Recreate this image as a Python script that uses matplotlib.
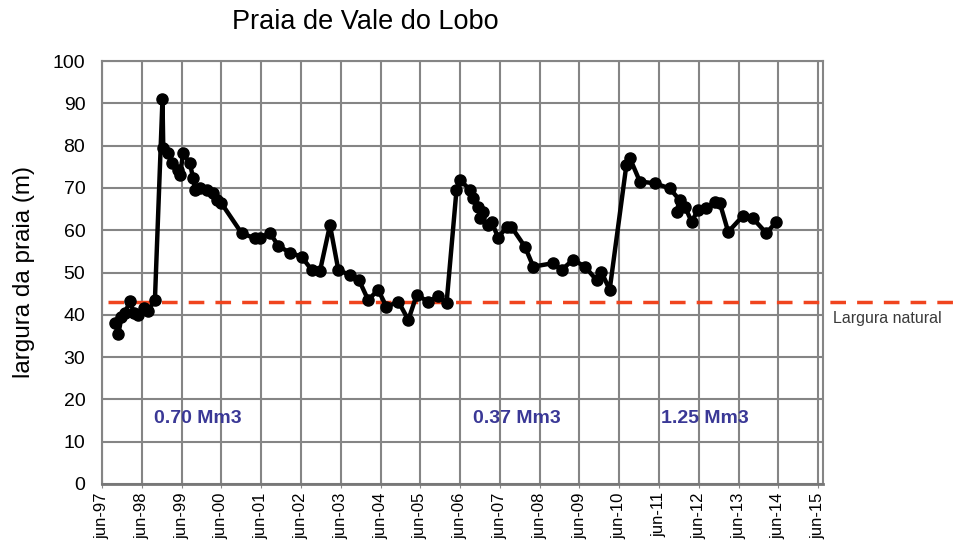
import matplotlib as mpl
mpl.use('Agg')
import matplotlib.pyplot as plt
import numpy as np

plt.rcParams['font.family'] = ['Liberation Sans', 'DejaVu Sans']

# beach width survey, time in decimal years
years = [1997.83, 1997.91, 1997.99, 1998.08, 1998.20, 1998.30, 1998.40, 1998.55, 1998.66, 1998.83,
         1999.02, 1999.04, 1999.17, 1999.25, 1999.42, 1999.46, 1999.54, 1999.71, 1999.79, 1999.84,
         1999.96, 2000.13, 2000.30, 2000.38, 2000.50, 2001.01, 2001.34, 2001.47, 2001.72, 2001.93,
         2002.22, 2002.52, 2002.77, 2002.98, 2003.23, 2003.44, 2003.73, 2003.96, 2004.19, 2004.44,
         2004.65, 2004.95, 2005.20, 2005.41, 2005.70, 2005.95, 2006.16, 2006.41, 2006.50, 2006.75,
         2006.83, 2006.95, 2007.08, 2007.00, 2007.21, 2007.29, 2007.46, 2007.67, 2007.79, 2008.13,
         2008.34, 2008.84, 2009.05, 2009.34, 2009.64, 2009.93, 2010.05, 2010.26, 2010.68, 2010.77,
         2011.02, 2011.39, 2011.77, 2012.02, 2011.94, 2012.15, 2012.32, 2012.48, 2012.69, 2012.90,
         2013.03, 2013.24, 2013.61, 2013.86, 2014.20, 2014.45]
width = [38.0, 35.4, 39.5, 40.5, 43.2, 40.5, 40.0, 41.5, 41.0, 43.5,
         91.0, 79.4, 78.2, 75.8, 74.2, 73.0, 78.2, 75.8, 72.3, 69.5,
         69.9, 69.5, 68.7, 67.1, 66.4, 59.3, 58.1, 58.1, 59.4, 56.3,
         54.7, 53.7, 50.6, 50.4, 61.2, 50.6, 49.4, 48.2, 43.5, 45.9,
         41.9, 43.1, 38.8, 44.7, 43.1, 44.4, 42.7, 69.5, 71.9, 69.5,
         67.5, 65.6, 64.4, 62.8, 61.2, 62.0, 58.2, 60.8, 60.8, 56.1,
         51.4, 52.2, 50.6, 53.0, 51.4, 48.2, 50.2, 45.9, 75.4, 77.0,
         71.5, 71.1, 69.9, 67.1, 64.4, 65.6, 62.0, 64.8, 65.2, 66.7,
         66.4, 59.6, 63.4, 62.8, 59.3, 62.0]

natural_width = 43
tick_years = list(range(1997, 2016))
tick_labels = ['jun-%02d' % (y % 100) for y in tick_years]

# nourishment volumes
fill_labels = ['0.70 Mm3', '0.37 Mm3', '1.25 Mm3']
fill_pos = [1999.9, 2007.93, 2012.65]

fig = plt.figure(figsize=(9.56, 5.45), dpi=100)
ax = fig.add_axes([0.1067, 0.112, 0.7545, 0.776])

xt = [y + 0.5 for y in tick_years]
ax.set_xlim(1997.5, 2015.63)
ax.set_ylim(0, 100)
ax.set_xticks(xt)
ax.set_xticklabels(tick_labels, rotation=90, fontsize=12)
ax.set_yticks(range(0, 101, 10))
ax.tick_params(axis='y', labelsize=14, length=0, pad=12)
ax.tick_params(axis='x', direction='inout', length=6, color='#888888', pad=3)
ax.grid(True, color='#858585', lw=1.5)
ax.set_axisbelow(True)
for s in ax.spines.values():
    s.set_color('#858585')
    s.set_linewidth(1.5)
ax.spines['bottom'].set_color('#777777')
ax.spines['bottom'].set_linewidth(2)

# natural width reference, running past the plot frame
ax.plot([1997.65, 2019.0], [natural_width, natural_width], color='#f0441e', lw=2.5,
        ls=(0, (4.5, 3.2)), clip_on=False, zorder=3)
ax.text(2017.25, natural_width - 3.8, 'Largura natural', fontsize=11.5, color='#3a3a3a',
        ha='center', va='center', clip_on=False)

ax.plot(years, width, color='black', lw=3.2, marker='o', ms=8, zorder=4)

for lab, x in zip(fill_labels, fill_pos):
    ax.text(x, 15.5, lab, color='#3a3896', fontsize=14, fontweight='bold',
            ha='center', va='center')

ax.set_ylabel('largura da praia (m)', fontsize=17.5, labelpad=13)
fig.text(0.382, 0.96, 'Praia de Vale do Lobo', fontsize=19.5, ha='center', va='center')

fig.savefig('out.png', dpi=100)
